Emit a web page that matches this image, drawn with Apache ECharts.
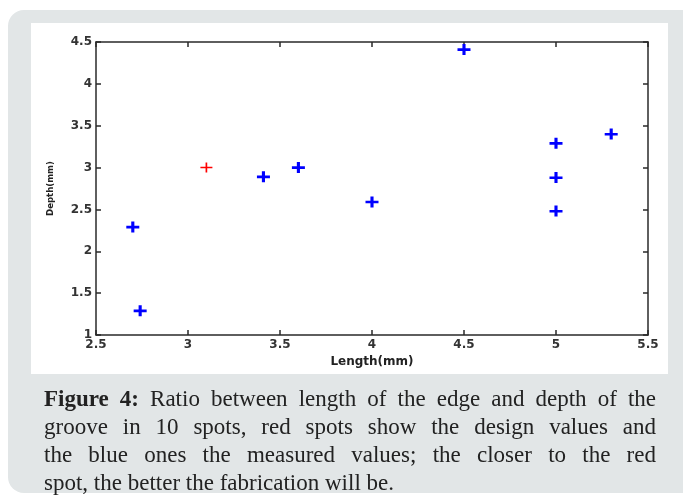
<!DOCTYPE html>
<html>
<head>
<meta charset="utf-8">
<script src="https://cdn.jsdelivr.net/npm/echarts@6/dist/echarts.min.js"></script>
<style>
  html, body { margin: 0; padding: 0; background: #ffffff; }
  #chart { position: absolute; left: 0; top: 0; width: 683px; height: 495px; }
  .caption {
    position: absolute; left: 44px; top: 385px; width: 612px;
    font-family: "Liberation Serif", "DejaVu Serif", serif;
    font-size: 23px; line-height: 28px; color: #222;
  }
  .caption div { text-align: justify; text-align-last: justify; white-space: nowrap; }
  .caption div.last { text-align-last: left; }
</style>
</head>
<body>
<div id="chart"></div>
<div class="caption">
  <div><b>Figure 4:</b> Ratio between length of the edge and depth of the</div>
  <div>groove in 10 spots, red spots show the design values and</div>
  <div>the blue ones the measured values; the closer to the red</div>
  <div class="last">spot, the better the fabrication will be.</div>
</div>
<script>
// measured spots (blue)
const measuredX = [2.70, 2.74, 3.41, 3.60, 4.00, 4.50, 5.00, 5.00, 5.00, 5.30];
const measuredY = [2.29, 1.29, 2.89, 3.00, 2.59, 4.41, 3.29, 2.88, 2.48, 3.40];
// design spot (red)
const designX = [3.1];
const designY = [3.0];

const xRange = [2.5, 5.5];
const yRange = [1, 4.5];

const toPairs = (xs, ys) => xs.map((x, i) => [x, ys[i]]);

const plusBold = "path://M0,3.9L10,3.9L10,6.3L0,6.3Z M3.8,0L6.2,0L6.2,10L3.8,10Z";
const plusThin = "path://M0,4.3L10,4.3L10,5.7L0,5.7Z M4.3,0L5.7,0L5.7,10L4.3,10Z";

const axisLine = { show: true, lineStyle: { color: "#2a2a2a", width: 1.5 } };
const axisTick = { show: true, inside: true, length: 5, lineStyle: { color: "#2a2a2a", width: 1.5 } };
const labelStyle = { fontFamily: "DejaVu Sans", fontWeight: "bold", fontSize: 12, color: "#333" };

const option = {
  animation: false,
  graphic: [
    {
      type: "rect", z: -10,
      shape: { x: 8, y: 10, width: 700, height: 483, r: 16 },
      style: { fill: "#e2e6e7" },
    },
    {
      type: "rect", z: -9,
      shape: { x: 31, y: 23, width: 637, height: 351 },
      style: { fill: "#ffffff" },
    },
  ],
  grid: { left: 96, right: 35, top: 42, bottom: 160, containLabel: false },
  xAxis: [
    {
      type: "value", min: xRange[0], max: xRange[1], interval: 0.5, position: "bottom",
      axisLine: axisLine, axisTick: axisTick, splitLine: { show: false },
      axisLabel: Object.assign({ margin: 4 }, labelStyle),
      name: "Length(mm)", nameLocation: "middle", nameGap: 18,
      nameTextStyle: { fontFamily: "DejaVu Sans", fontWeight: "bold", fontSize: 12, color: "#222" },
    },
    {
      type: "value", min: xRange[0], max: xRange[1], interval: 0.5, position: "top",
      axisLine: axisLine, axisTick: axisTick, splitLine: { show: false },
      axisLabel: { show: false },
    },
  ],
  yAxis: [
    {
      type: "value", min: yRange[0], max: yRange[1], interval: 0.5, position: "left",
      axisLine: axisLine, axisTick: axisTick, splitLine: { show: false },
      axisLabel: Object.assign({ margin: 4 }, labelStyle),
      name: "Depth(mm)", nameLocation: "middle", nameGap: 40,
      nameTextStyle: { fontFamily: "DejaVu Sans Condensed", fontWeight: "bold", fontSize: 9.5, color: "#222" },
    },
    {
      type: "value", min: yRange[0], max: yRange[1], interval: 0.5, position: "right",
      axisLine: axisLine, axisTick: axisTick, splitLine: { show: false },
      axisLabel: { show: false },
    },
  ],
  series: [
    {
      name: "measured", type: "scatter",
      data: toPairs(measuredX, measuredY),
      symbol: plusBold, symbolSize: [13, 11],
      itemStyle: { color: "#0000ff", opacity: 1 },
    },
    {
      name: "design", type: "scatter",
      data: toPairs(designX, designY),
      symbol: plusThin, symbolSize: [12, 10],
      itemStyle: { color: "#ff0000", opacity: 1 },
    },
  ],
};

const myChart = echarts.init(document.getElementById("chart"));
myChart.setOption(option);
</script>
</body>
</html>
